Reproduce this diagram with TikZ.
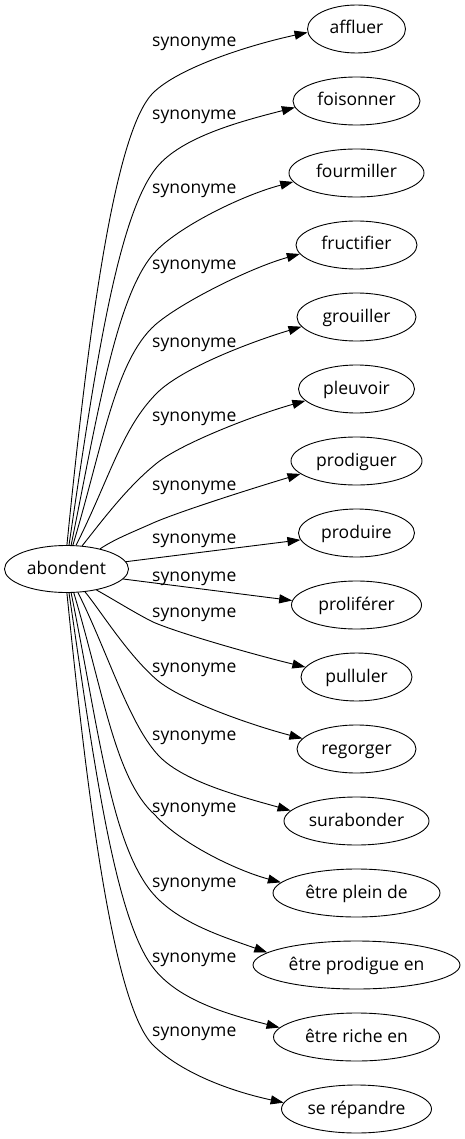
\documentclass[tikz,border=0pt]{standalone}
\usepackage{fontspec}
\setmainfont{Open Sans}
\usetikzlibrary{arrows.meta,shapes.geometric}
\newcommand\fanlink[7]{\draw[link] (abondent.#1) .. controls +#2 and +#3 .. #4 .. controls +#5 and +#6 .. (#7);}
\begin{document}
\begin{tikzpicture}[x=1pt,y=-1pt,
  txt/.style={font=\fontsize{17.5}{20}\selectfont, text height=13.5pt, text depth=3.5pt},
  word/.style={txt, draw, ellipse, line width=0.9pt, inner sep=0pt, minimum height=48pt},
  lab/.style={txt, anchor=west, inner sep=0pt},
  link/.style={line width=0.9pt, -{Triangle[length=13pt,width=9pt]}}]
\useasboundingbox (0,0) rectangle (465,1139);
\node[word, minimum width=124pt, minimum height=47pt] (abondent) at (66.5,569) {abondent};
\node[word, minimum width=98pt]  (affluer)    at (356.5,29)   {affluer};
\node[word, minimum width=127pt] (foisonner)  at (356.5,101)  {foisonner};
\node[word, minimum width=135pt] (fourmiller) at (356.5,173)  {fourmiller};
\node[word, minimum width=121pt] (fructifier) at (356.5,245)  {fructifier};
\node[word, minimum width=119pt] (grouiller)  at (356.5,317)  {grouiller};
\node[word, minimum width=116pt] (pleuvoir)   at (356.5,389)  {pleuvoir};
\node[word, minimum width=131pt] (prodiguer)  at (356.5,461)  {prodiguer};
\node[word, minimum width=116pt] (produire)   at (356.5,533)  {produire};
\node[word, minimum width=130pt] (proliferer) at (356.5,605)  {proliférer};
\node[word, minimum width=111pt] (pulluler)   at (356.5,677)  {pulluler};
\node[word, minimum width=119pt] (regorger)   at (356.5,749)  {regorger};
\node[word, minimum width=145pt] (surabonder) at (356.5,821)  {surabonder};
\node[word, minimum width=167pt] (plein)      at (356.5,893)  {être plein de};
\node[word, minimum width=207pt] (prodigue)   at (356.5,965)  {être prodigue en};
\node[word, minimum width=166pt] (riche)      at (356.5,1037) {être riche en};
\node[word, minimum width=150pt] (repandre)   at (356.5,1109) {se répandre};
\foreach \i/\ly in {1/42,2/115,3/189,4/265,5/342,6/416,7/485,8/538,9/576,10/612,11/667,12/735,13/807,14/882,15/957,16/1031}
  \node[lab] (l\i) at (152,\ly) {synonyme};
\fanlink{89}{(20,-200)}{(-40,40)}{(153,93)}{(25,-25)}{(-60,13)}{affluer.184}
\fanlink{84}{(25,-170)}{(-40,48)}{(157,167)}{(25,-30)}{(-55,14)}{foisonner.186}
\fanlink{79}{(27,-133)}{(-40,40)}{(157,250)}{(25,-25)}{(-50,13)}{fourmiller.188}
\fanlink{75}{(30,-100)}{(-40,36)}{(155,325)}{(25,-22)}{(-50,14)}{fructifier.189}
\fanlink{68}{(34,-68)}{(-35,35)}{(157,393)}{(25,-25)}{(-50,15)}{grouiller.190}
\fanlink{56}{(20,-25)}{(-30,24)}{(157,463)}{(25,-20)}{(-50,14)}{pleuvoir.193}
\fanlink{31}{(15,-10)}{(-20,9)}{(153,523)}{(25,-11)}{(-50,15)}{prodiguer.193}
\draw[link] (abondent.7) -- (produire.187);
\draw[link] (abondent.350) -- (proliferer.176);
\fanlink{325}{(18,10)}{(-18,-9)}{(153,622)}{(25,11)}{(-50,-12)}{pulluler.169}
\fanlink{309}{(15,18)}{(-30,-26)}{(157,680)}{(25,21)}{(-50,-13)}{regorger.169}
\fanlink{296}{(30,60)}{(-30,-30)}{(160,757)}{(25,25)}{(-50,-14)}{surabonder.171}
\fanlink{287}{(30,100)}{(-40,-36)}{(155,815)}{(25,28)}{(-45,-12)}{plein.172}
\fanlink{281}{(27,133)}{(-40,-52)}{(150,890)}{(25,32)}{(-45,-16)}{prodigue.172}
\fanlink{276}{(25,170)}{(-40,-48)}{(155,970)}{(25,30)}{(-55,-14)}{riche.173}
\fanlink{271}{(20,200)}{(-40,-40)}{(153,1045)}{(25,25)}{(-60,-13)}{repandre.175}
\end{tikzpicture}
\end{document}
